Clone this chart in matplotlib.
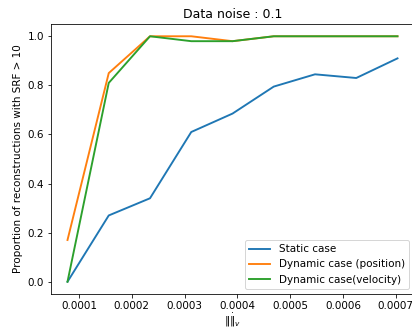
import numpy as np
import matplotlib
matplotlib.use("Agg")
import matplotlib.pyplot as plt

# noise levels on x axis
noise = [7.8125e-5, 1.5625e-4, 2.34375e-4, 3.125e-4, 3.90625e-4,
         4.6875e-4, 5.46875e-4, 6.25e-4, 7.03125e-4]
static_case = [0.0, 0.27, 0.34, 0.61, 0.685, 0.795, 0.845, 0.83, 0.91]
dyn_position = [0.17, 0.85, 1.0, 1.0, 0.98, 1.0, 1.0, 1.0, 1.0]
dyn_velocity = [0.0, 0.81, 1.0, 0.98, 0.98, 1.0, 1.0, 1.0, 1.0]

plt.rcParams['font.size'] = 10.4
plt.rcParams['lines.linewidth'] = 1.9

fig = plt.figure(figsize=(412 / 72, 330 / 72), dpi=72)
ax = fig.add_axes([51 / 412, 36 / 330, 363 / 412, 270 / 330])

ax.plot(noise, static_case, label="Static case")
ax.plot(noise, dyn_position, label="Dynamic case (position)")
ax.plot(noise, dyn_velocity, label="Dynamic case(velocity)")

ax.set_title("Data noise : 0.1")
ax.set_ylabel("Proportion of reconstructions with SRF > 10")
ax.set_xlabel(r"$\|\dot{\|}_v$", labelpad=1)
ax.legend(loc="lower right")

fig.savefig("out.png", dpi=72)
